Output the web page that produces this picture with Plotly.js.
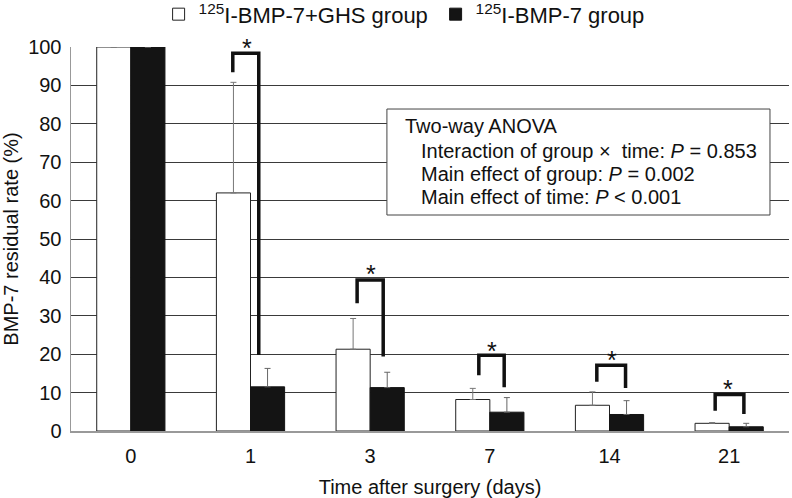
<!DOCTYPE html>
<html>
<head>
<meta charset="utf-8">
<script src="https://cdn.plot.ly/plotly-3.0.1.min.js"></script>
<style>
  html, body { margin: 0; padding: 0; background: #fff; }
  #chart { width: 792px; height: 498px; }
</style>
</head>
<body>
<div id="chart"></div>
<script>
// ---- data ----
const categories = ['0', '1', '3', '7', '14', '21'];
const ghsValues = [100, 62, 21.3, 8.2, 6.7, 2.0];
const ghsErrors = [0, 28.8, 8.0, 2.9, 3.5, 0.2];
const bmpValues = [100, 11.5, 11.3, 4.9, 4.3, 1.1];
const bmpErrors = [0, 4.8, 4.0, 3.8, 3.6, 0.9];

// significance brackets (category index, top, left-leg bottom, right-leg bottom, star level)
const bracketCats = [1, 2, 3, 4, 5];
const bracketTop = [98.4, 39.3, 19.7, 17.1, 9.5];
const bracketLeftEnd = [93.4, 33.3, 14.5, 12.8, 5.3];
const bracketRightEnd = [19.8, 19.4, 11.4, 11.2, 4.4];
const starLevel = [101.3, 42.4, 22.4, 20.0, 12.4];

const anovaLines = [
  'Two-way ANOVA',
  'Interaction of group \u00d7  time: <i>P</i> = 0.853',
  'Main effect of group: <i>P</i> = 0.002',
  'Main effect of time: <i>P</i> < 0.001'
];

// ---- styling / placement ----
const FONT = 'Liberation Sans, Arial, sans-serif';
const Y_MAX = 100;
const bracketLeftOff = [-0.148, -0.109, -0.092, -0.106, -0.117];
const bracketRightOff = [0.069, 0.109, 0.120, 0.134, 0.123];
const starOff = [-0.033, 0.006, 0.022, 0.025, -0.013];

const xIdx = categories.map((_, i) => i);

const traces = [
  {
    type: 'bar', name: '<sup>125</sup>I-BMP-7+GHS group',
    x: xIdx, y: ghsValues,
    marker: { color: '#ffffff', line: { color: '#222', width: 1 } },
    error_y: { type: 'data', symmetric: false,
      array: ghsErrors, arrayminus: ghsErrors.map(() => 0),
      color: '#777', thickness: 1, width: 3 }
  },
  {
    type: 'bar', name: '<sup>125</sup>I-BMP-7 group',
    x: xIdx, y: bmpValues,
    marker: { color: '#141414', line: { color: '#141414', width: 1 } },
    error_y: { type: 'data', symmetric: false,
      array: bmpErrors, arrayminus: bmpErrors.map(() => 0),
      color: '#666', thickness: 1, width: 3 }
  }
];

const shapes = [];
const annotations = [];
bracketCats.forEach((c, i) => {
  const xl = c + bracketLeftOff[i], xr = c + bracketRightOff[i];
  shapes.push({
    type: 'path', xref: 'x', yref: 'y',
    path: `M ${xl},${bracketLeftEnd[i]} L ${xl},${bracketTop[i]} L ${xr},${bracketTop[i]} L ${xr},${bracketRightEnd[i]}`,
    line: { color: '#111', width: 3.5 }, layer: 'above'
  });
  annotations.push({
    xref: 'x', yref: 'paper', x: c + starOff[i], y: starLevel[i] / Y_MAX,
    text: '*', showarrow: false, yanchor: 'middle', xanchor: 'center',
    yshift: -6, font: { family: FONT, size: 25, color: '#111' }
  });
});

// ANOVA box
shapes.push({
  type: 'rect', xref: 'paper', yref: 'paper',
  x0: 0.440, x1: 0.9735, y0: 0.5625, y1: 0.8385,
  fillcolor: '#ffffff', line: { color: '#444', width: 1 }, layer: 'above'
});
const anovaY = [0.795, 0.73, 0.67, 0.609];
const anovaX = [0.4624, 0.4847, 0.4847, 0.4847];
anovaLines.forEach((t, i) => {
  annotations.push({
    xref: 'paper', yref: 'paper', x: anovaX[i], y: anovaY[i],
    text: t, showarrow: false, xanchor: 'left', yanchor: 'middle',
    font: { family: FONT, size: 20, color: '#111' }
  });
});

const layout = {
  width: 792, height: 498,
  margin: { l: 71, r: 3, t: 47, b: 67, autoexpand: false },
  paper_bgcolor: '#fff', plot_bgcolor: '#fff',
  font: { family: FONT, size: 20, color: '#111' },
  barmode: 'group', bargap: 0.43, bargroupgap: 0,
  showlegend: true,
  legend: {
    orientation: 'h', x: 0.122, xanchor: 'left', y: 1.085, yanchor: 'middle',
    font: { family: FONT, size: 22, color: '#111' }, bgcolor: 'rgba(0,0,0,0)',
    itemwidth: 30, traceorder: 'normal', entrywidth: 232
  },
  xaxis: {
    range: [-0.5, 5.5], tickmode: 'array', tickvals: xIdx, ticktext: categories,
    showgrid: false, zeroline: false, showline: true, linecolor: '#999', linewidth: 1.5,
    ticks: '', ticklabelstandoff: 6, automargin: false,
    tickfont: { family: FONT, size: 20, color: '#111' },
    title: { text: 'Time after surgery (days)', font: { family: FONT, size: 20, color: '#111' }, standoff: 14 }
  },
  yaxis: {
    range: [0, Y_MAX], tickmode: 'linear', tick0: 0, dtick: 10,
    showgrid: true, gridcolor: '#3a3a3a', gridwidth: 1,
    zeroline: false, showline: true, linecolor: '#999', linewidth: 1.5,
    ticks: '', ticklabelstandoff: 4, automargin: false,
    tickfont: { family: FONT, size: 20, color: '#111' },
    title: { text: 'BMP-7 residual rate (%)', font: { family: FONT, size: 20, color: '#111' }, standoff: 10 }
  },
  shapes: shapes,
  annotations: annotations
};

Plotly.newPlot('chart', traces, layout, { displayModeBar: false, staticPlot: true });
</script>
</body>
</html>
